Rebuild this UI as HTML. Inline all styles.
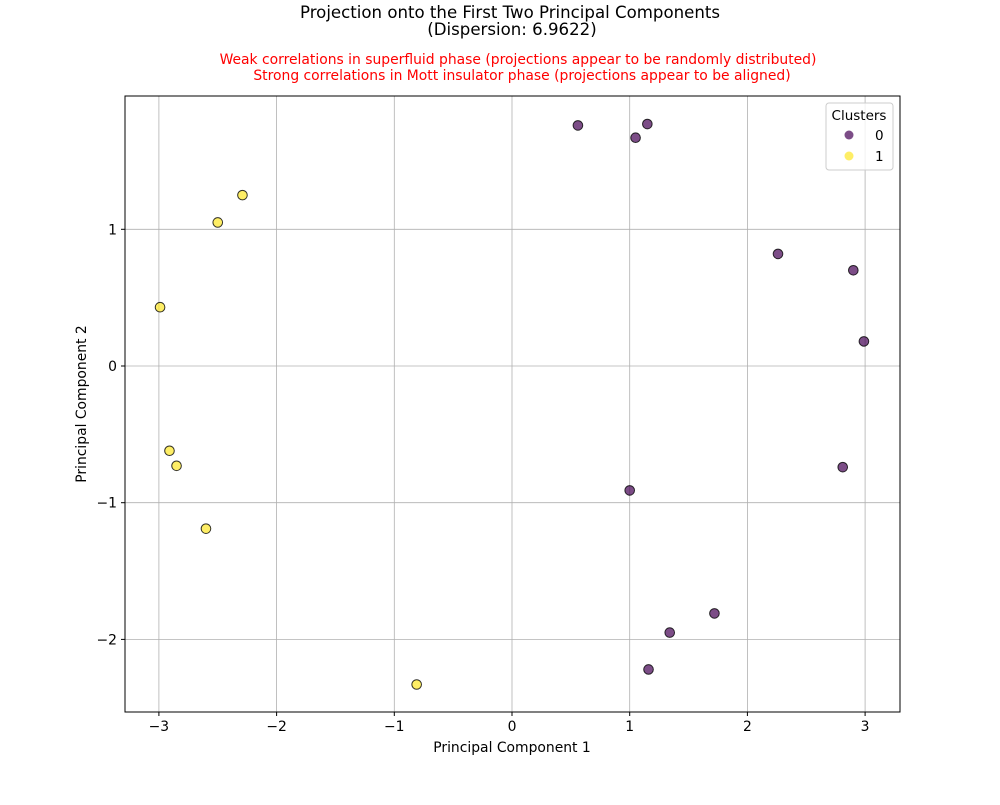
<!DOCTYPE html>
<html><head><meta charset="utf-8"><style>
body{margin:0;background:#fff;}
svg{font-family:"DejaVu Sans","Liberation Sans",sans-serif;}
</style></head><body>
<svg id="chart" width="1000" height="800" xmlns="http://www.w3.org/2000/svg">
<rect width="1000" height="800" fill="#fff"/>
<text x="510" y="18" text-anchor="middle" font-size="16.6">Projection onto the First Two Principal Components</text>
<text x="512" y="35" text-anchor="middle" font-size="16.6">(Dispersion: 6.9622)</text>
<text x="518" y="64" text-anchor="middle" font-size="13.9" fill="red">Weak correlations in superfluid phase (projections appear to be randomly distributed)</text>
<text x="522" y="80" text-anchor="middle" font-size="13.9" fill="red">Strong correlations in Mott insulator phase (projections appear to be aligned)</text>
<g id="grid"></g>
<g id="points"></g>
<rect x="125" y="96" width="775" height="616" fill="none" stroke="#000" stroke-width="1"/>
<g id="axes"></g>
<text x="512" y="752" text-anchor="middle" font-size="13.9">Principal Component 1</text>
<text transform="translate(86,404) rotate(-90)" text-anchor="middle" font-size="13.9">Principal Component 2</text>
<g>
<rect x="826" y="103" width="67" height="67" rx="3" fill="#fff" fill-opacity="0.8" stroke="#ccc"/>
<text x="859" y="120" text-anchor="middle" font-size="13.5">Clusters</text>
<g><circle cx="849" cy="135" r="4.5" fill="#440154" fill-opacity="0.7"/><text x="875" y="140" font-size="13.5">0</text></g>
<g><circle cx="849" cy="156" r="4.5" fill="#fde725" fill-opacity="0.7"/><text x="875" y="161" font-size="13.5">1</text></g>
</g>
</svg>
<script>
const xTicks=[-3,-2,-1,0,1,2,3];
const yTicks=[-2,-1,0,1];
const c0x=[0.56,1.15,1.05,2.26,2.90,2.99,2.81,1.00,1.72,1.34,1.16];
const c0y=[1.76,1.77,1.67,0.82,0.70,0.18,-0.74,-0.91,-1.81,-1.95,-2.22];
const c1x=[-2.29,-2.50,-2.99,-2.91,-2.85,-2.60,-0.81];
const c1y=[1.25,1.05,0.43,-0.62,-0.73,-1.19,-2.33];
const ns="http://www.w3.org/2000/svg";
const sx=v=>512+v*117.7;
const sy=v=>366-v*136.7;
const grid=document.getElementById('grid'),axes=document.getElementById('axes'),pts=document.getElementById('points');
function mk(tag,attrs,parent){const e=document.createElementNS(ns,tag);for(const k in attrs)e.setAttribute(k,attrs[k]);parent.appendChild(e);return e;}
const fmt=v=>v<0?'\u2212'+Math.abs(v):String(v);
xTicks.forEach(v=>{
 const g=mk('line',{x1:sx(v),x2:sx(v),y1:96,y2:712,stroke:'#b0b0b0','stroke-width':0.8},grid);
 
 
 const t=mk('line',{x1:sx(v),x2:sx(v),y1:712,y2:716,stroke:'#000'},axes);
 
 
 const l=mk('text',{x:sx(v),y:731,'text-anchor':'middle','font-size':13.9},axes);l.textContent=fmt(v);
 
 
});
yTicks.forEach(v=>{
 const g=mk('line',{x1:125,x2:900,y1:sy(v),y2:sy(v),stroke:'#b0b0b0','stroke-width':0.8},grid);
 
 
 const t=mk('line',{x1:121,x2:125,y1:sy(v),y2:sy(v),stroke:'#000'},axes);
 
 
 const l=mk('text',{x:117,y:sy(v)+5,'text-anchor':'end','font-size':13.9},axes);l.textContent=fmt(v);
 
 
});
function draw(xs,ys,color,name){
 xs.forEach((x,i)=>{
  const c=mk('circle',{cx:sx(x),cy:sy(ys[i]),r:4.8,fill:color,'fill-opacity':0.7,stroke:'#000','stroke-opacity':0.8,'stroke-width':1},pts);
  
  
 });
}
draw(c0x,c0y,'#440154','cluster-0-point');
draw(c1x,c1y,'#fde725','cluster-1-point');
</script>
</body></html>
